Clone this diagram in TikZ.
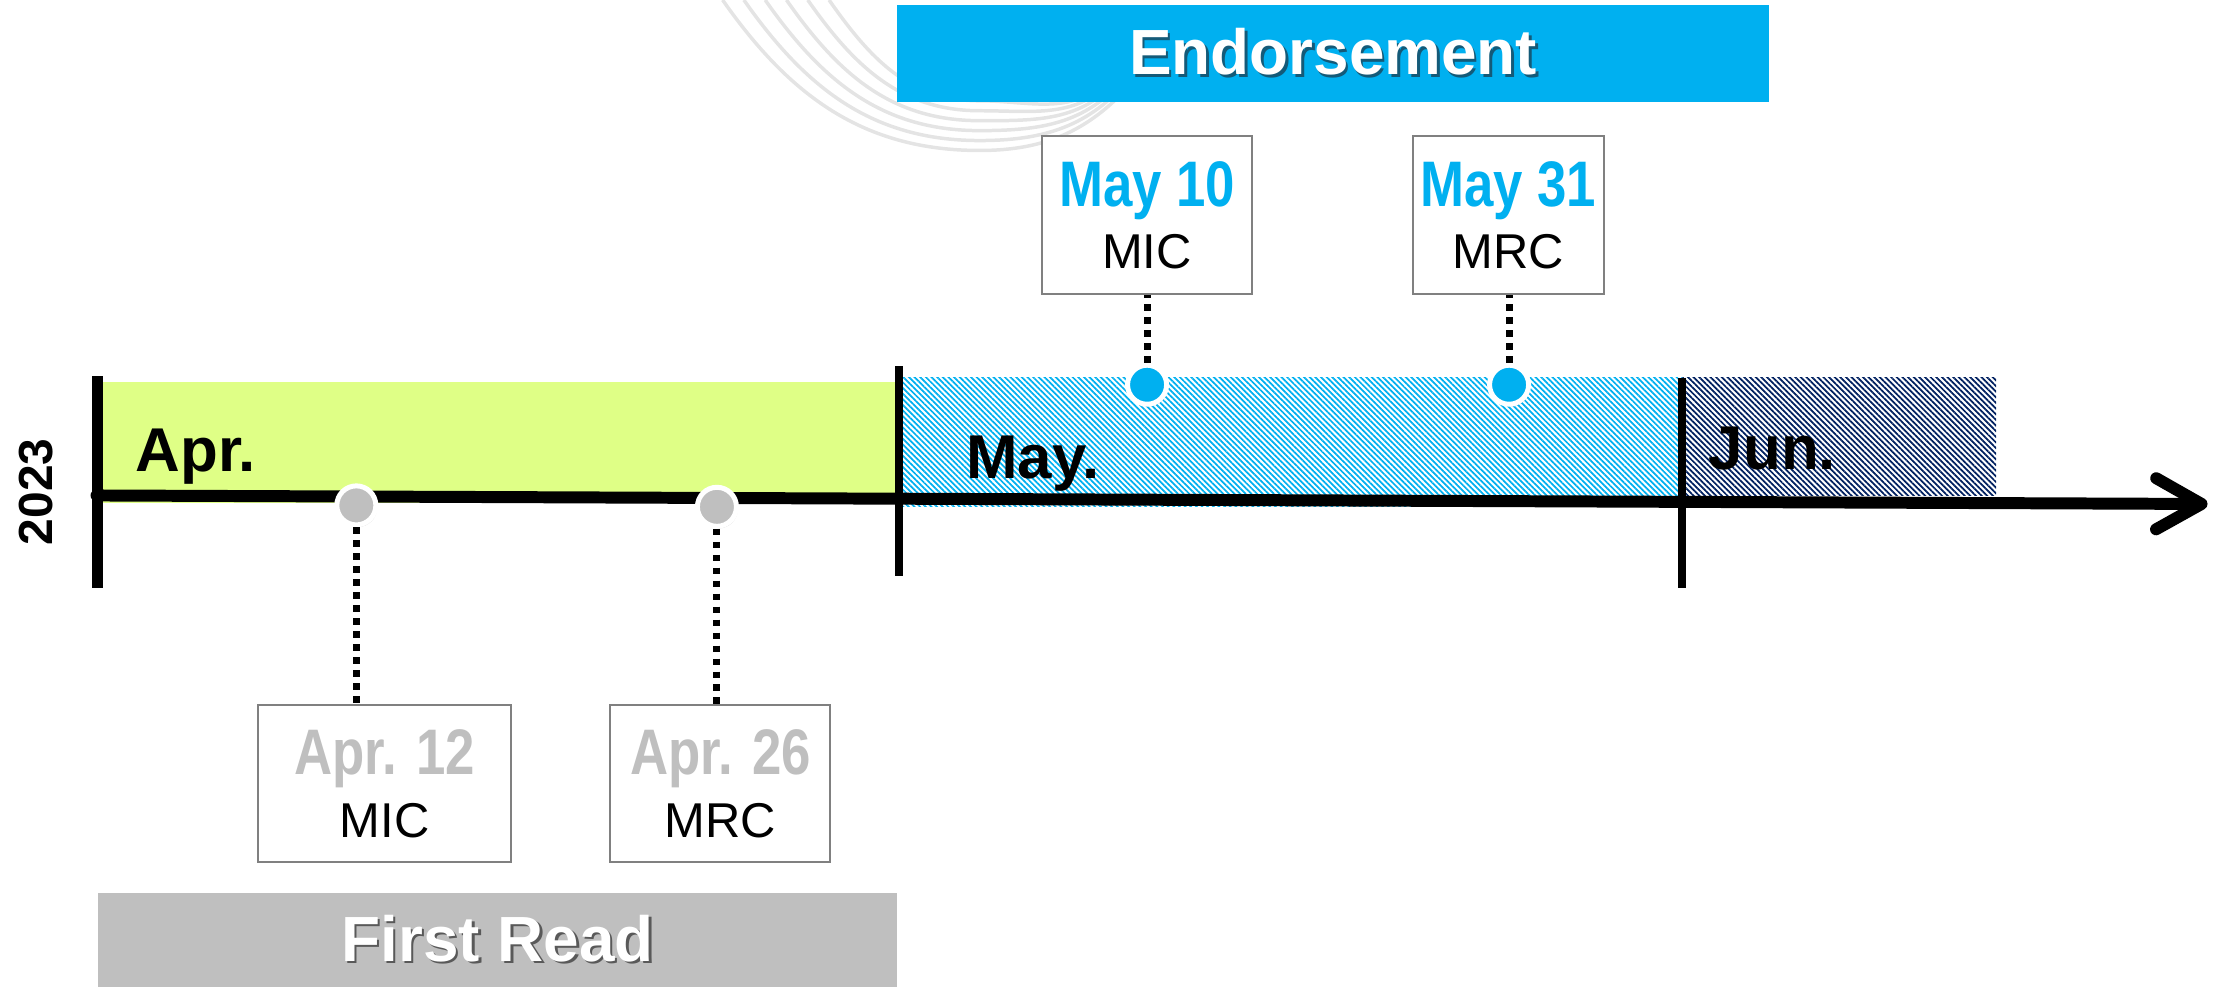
\documentclass[tikz,border=0pt]{standalone}
\usepackage{fontspec}
\setmainfont{Liberation Sans}
\newfontfamily\narrowfont[FakeStretch=0.82]{Liberation Sans}
\usetikzlibrary{arrows.meta,patterns.meta,shadows}

\definecolor{endorseblue}{HTML}{00B0F0}
\definecolor{readgray}{HTML}{BFBFBF}
\definecolor{aprgreen}{HTML}{DFFF86}
\definecolor{junnavy}{HTML}{002060}
\definecolor{boxgray}{HTML}{808080}
\definecolor{swirlgray}{HTML}{E4E4E4}
\definecolor{endorseshade}{HTML}{145A78}

\newcommand{\shadowtxt}[2]{\makebox[0pt][l]{\hspace*{0.5pt}\raisebox{-0.5pt}{\textcolor{#1}{#2}}}#2}
\newcommand{\datefont}{\narrowfont\bfseries\fontsize{12.9}{12.5}\selectfont}

\tikzset{
  phasebar/.style={fill=#1, inner sep=0pt, text=white, font=\bfseries\fontsize{12.8}{14}\selectfont},
  monthlbl/.style={anchor=base west, inner sep=0pt, font=\bfseries\fontsize{12.4}{14}\selectfont},
  datebox/.style={draw=boxgray, line width=0.4pt, fill=white, minimum width=#1, minimum height=11.1mm,
    inner sep=0pt, align=center, font=\fontsize{9.8}{12.5}\selectfont},
  mdot/.style={circle, fill=#1, draw=white, line width=0.35mm, minimum size=2.75mm, inner sep=0pt,
    drop shadow={shadow xshift=0.1mm, shadow yshift=-0.15mm, opacity=0.3, fill=black!60}},
  conn/.style={line width=1.4pt, dash pattern=on 1.3pt off 1.3pt},
  tick/.style={line width=#1}
}

\begin{document}
\begin{tikzpicture}[x=0.1mm,y=-0.1mm]
  \useasboundingbox (0,0) rectangle (1568,695);

  \foreach \i in {0,...,5}
    \draw[swirlgray, line width=0.7pt] (509+15*\i,0) to[out=-55,in=180] (690,106-7*\i) to[out=0,in=-130] (800-4*\i,55);

  \fill[aprgreen] (68,269) rectangle (633,354);
  \fill[pattern={Lines[angle=-45,distance=0.8pt,line width=0.35pt]}, pattern color=endorseblue] (633,266) rectangle (1185,357);
  \fill[pattern={Lines[angle=-45,distance=0.8pt,line width=0.35pt]}, pattern color=junnavy] (1185,266) rectangle (1406,349);

  \node(endorse)[phasebar=endorseblue, minimum width=61.4mm, minimum height=6.8mm] at (939,37.5) {\shadowtxt{endorseshade}{Endorsement}};
  \node(firstread)[phasebar=readgray, minimum width=56.3mm, minimum height=6.6mm] at (350.5,662) {\shadowtxt{black!65}{First Read}};

  \node(apr)[monthlbl] at (95,332) {Apr.};
  \node(may)[monthlbl] at (680,337) {May.};
  \node(jun)[monthlbl] at (1203,331) {Jun.};
  \node(year)[rotate=90, inner sep=0pt, font=\bfseries\fontsize{9.6}{11}\selectfont] at (25.5,346.5) {2023};

  \coordinate (axisL) at (68,349);
  \coordinate (axisR) at (1555,355);
  \draw[line width=2.4pt, line cap=round, -{Straight Barb[length=3.2mm,width=3.6mm,round]}] (axisL) -- (axisR);

  \coordinate (startT) at (69,265);  \coordinate (startB) at (69,414);
  \coordinate (mayT) at (633,258);   \coordinate (mayB) at (633,406);
  \coordinate (junT) at (1185,266);  \coordinate (junB) at (1185,414);
  \draw[tick=2.2pt] (startT) -- (startB);
  \draw[tick=1.6pt] (mayT) -- (mayB);
  \draw[tick=1.6pt] (junT) -- (junB);

  \node(a12)[datebox=17.8mm] at (271,552) {{\datefont\color{readgray}Apr. 12}\\MIC};
  \node(a26)[datebox=15.5mm] at (507.5,552) {{\datefont\color{readgray}Apr. 26}\\MRC};
  \node(m10)[datebox=14.8mm] at (808,151.5) {{\datefont\color{endorseblue}May 10}\\MIC};
  \node(m31)[datebox=13.5mm] at (1062.5,151.5) {{\datefont\color{endorseblue}May 31}\\MRC};

  \node(d12)[mdot=readgray] at (251,356) {};
  \node(d26)[mdot=readgray] at (505,357) {};
  \node(d10)[mdot=endorseblue] at (808,271) {};
  \node(d31)[mdot=endorseblue] at (1063,271) {};

  \draw[conn] (d12) -- (d12 |- a12.north);
  \draw[conn] (d26) -- (d26 |- a26.north);
  \draw[conn] (d10) -- (d10 |- m10.south);
  \draw[conn] (d31) -- (d31 |- m31.south);
\end{tikzpicture}
\end{document}
